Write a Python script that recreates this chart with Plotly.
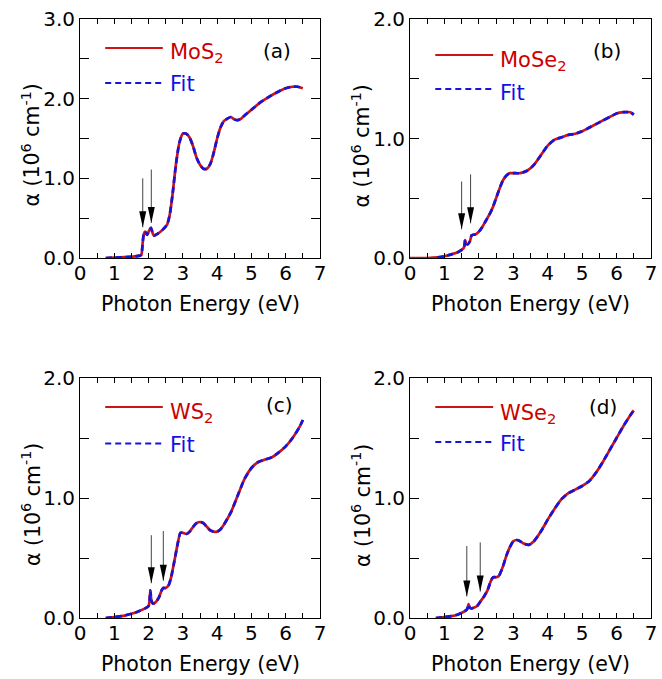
import plotly.graph_objects as go

FONT = "DejaVu Sans, Liberation Sans, Arial, sans-serif"
RED = "#cc1414"
BLUE = "#1414e0"
TXT_RED = "#cc0000"
TXT_BLUE = "#1010e6"

# ---------------- data ----------------
energy_a = [0.75, 1.0, 1.3, 1.6, 1.75, 1.79, 1.83, 1.86, 1.9, 1.96, 2.02, 2.07, 2.12, 2.16,
            2.25, 2.4, 2.54, 2.62, 2.7, 2.8, 2.9, 3.0, 3.1, 3.2, 3.3, 3.4, 3.5, 3.6, 3.7,
            3.8, 3.9, 4.0, 4.1, 4.2, 4.3, 4.4, 4.5, 4.6, 4.7, 4.8, 5.0, 5.25, 5.5, 5.75,
            6.0, 6.2, 6.35, 6.5]
alpha_a = [0.0, 0.005, 0.01, 0.02, 0.03, 0.04, 0.20, 0.30, 0.33, 0.29, 0.35, 0.38, 0.31, 0.28,
           0.30, 0.35, 0.42, 0.55, 0.80, 1.18, 1.45, 1.56, 1.56, 1.51, 1.40, 1.26, 1.17, 1.12, 1.12,
           1.18, 1.32, 1.50, 1.64, 1.72, 1.75, 1.77, 1.74, 1.73, 1.75, 1.79, 1.86, 1.95, 2.02, 2.08,
           2.13, 2.15, 2.15, 2.13]
fit_energy_a = energy_a
fit_alpha_a = alpha_a

energy_b = [0.0, 0.5, 0.8, 1.0, 1.2, 1.4, 1.55, 1.58, 1.60, 1.63, 1.68, 1.74, 1.79, 1.85, 1.92,
            2.0, 2.1, 2.2, 2.3, 2.4, 2.5, 2.6, 2.7, 2.8, 2.9, 3.0, 3.2, 3.4, 3.6, 3.8, 4.0, 4.2,
            4.4, 4.6, 4.8, 5.0, 5.2, 5.4, 5.6, 5.8, 6.0, 6.2, 6.4, 6.5]
alpha_b = [0.0, 0.0, 0.005, 0.015, 0.03, 0.05, 0.08, 0.10, 0.15, 0.12, 0.115, 0.14, 0.19, 0.195, 0.20,
           0.22, 0.26, 0.31, 0.36, 0.42, 0.50, 0.58, 0.65, 0.69, 0.71, 0.71, 0.71, 0.73, 0.78, 0.86,
           0.94, 0.99, 1.01, 1.03, 1.04, 1.06, 1.09, 1.12, 1.15, 1.18, 1.21, 1.22, 1.22, 1.20]
fit_energy_b = energy_b[2:]
fit_alpha_b = alpha_b[2:]

energy_c = [0.75, 1.0, 1.3, 1.5, 1.7, 1.9, 2.0, 2.03, 2.05, 2.08, 2.12, 2.2, 2.3, 2.38, 2.43,
            2.5, 2.58, 2.65, 2.75, 2.85, 2.93, 3.0, 3.1, 3.2, 3.3, 3.4, 3.5, 3.6, 3.7, 3.8, 3.9,
            4.0, 4.1, 4.2, 4.4, 4.6, 4.8, 5.0, 5.2, 5.4, 5.6, 5.8, 6.0, 6.2, 6.4, 6.5]
alpha_c = [0.0, 0.008, 0.02, 0.035, 0.055, 0.08, 0.10, 0.15, 0.23, 0.15, 0.12, 0.13, 0.17, 0.23, 0.25,
           0.25, 0.27, 0.33, 0.47, 0.62, 0.71, 0.71, 0.70, 0.72, 0.76, 0.79, 0.80, 0.79, 0.76, 0.73, 0.72,
           0.72, 0.74, 0.78, 0.88, 1.02, 1.16, 1.25, 1.30, 1.32, 1.34, 1.38, 1.43, 1.50, 1.59, 1.65]
fit_energy_c = energy_c
fit_alpha_c = alpha_c

energy_d = [0.75, 1.0, 1.2, 1.4, 1.55, 1.65, 1.68, 1.70, 1.73, 1.78, 1.85, 1.95, 2.05, 2.15, 2.25,
            2.35, 2.42, 2.5, 2.58, 2.7, 2.8, 2.9, 3.0, 3.1, 3.2, 3.3, 3.45, 3.6, 3.8, 4.0, 4.2,
            4.4, 4.6, 4.8, 5.0, 5.2, 5.4, 5.6, 5.8, 6.0, 6.2, 6.4, 6.5]
alpha_d = [0.0, 0.008, 0.015, 0.03, 0.05, 0.07, 0.09, 0.115, 0.09, 0.08, 0.085, 0.10, 0.14, 0.18, 0.23,
           0.31, 0.34, 0.34, 0.35, 0.43, 0.52, 0.59, 0.64, 0.65, 0.64, 0.62, 0.61, 0.64, 0.72, 0.82, 0.91,
           0.99, 1.04, 1.07, 1.10, 1.14, 1.21, 1.30, 1.40, 1.50, 1.60, 1.69, 1.73]
fit_energy_d = energy_d
fit_alpha_d = alpha_d

# arrows: (energy, top of shaft, tip)
arrows_a = [(1.83, 1.00, 0.385), (2.08, 1.11, 0.44)]
arrows_b = [(1.50, 0.64, 0.24), (1.76, 0.70, 0.29)]
arrows_c = [(2.08, 0.69, 0.29), (2.43, 0.725, 0.31)]
arrows_d = [(1.65, 0.60, 0.18), (2.04, 0.63, 0.22)]

materials = ["MoS<sub>2</sub>", "MoSe<sub>2</sub>", "WS<sub>2</sub>", "WSe<sub>2</sub>"]
labels = ["(a)", "(b)", "(c)", "(d)"]
y_max = [3.0, 2.0, 2.0, 2.0]
x_ticks = [0, 1, 2, 3, 4, 5, 6, 7]

# ---------------- layout geometry ----------------
W, H = 662, 679
col_px = [(80, 320), (410, 651)]
row_px = [(19, 258), (378, 618)]

panels = [
    dict(x=energy_a, y=alpha_a, fx=fit_energy_a, fy=fit_alpha_a, arrows=arrows_a, col=0, row=0,
         leg=(29, 64), legtxt=(30.5, 65), lab=(0.82, 31.7)),
    dict(x=energy_b, y=alpha_b, fx=fit_energy_b, fy=fit_alpha_b, arrows=arrows_b, col=1, row=0,
         leg=(36, 70), legtxt=(38.5, 73.5), lab=(0.817, 31.7)),
    dict(x=energy_c, y=alpha_c, fx=fit_energy_c, fy=fit_alpha_c, arrows=arrows_c, col=0, row=1,
         leg=(29, 65.5), legtxt=(31.5, 67.3), lab=(0.83, 27)),
    dict(x=energy_d, y=alpha_d, fx=fit_energy_d, fy=fit_alpha_d, arrows=arrows_d, col=1, row=1,
         leg=(29, 64), legtxt=(33, 66.3), lab=(0.80, 29)),
]

fig = go.Figure()
shapes = []
annotations = []

for i, p in enumerate(panels):
    n = "" if i == 0 else str(i + 1)
    xa, ya = "x" + n, "y" + n
    x0p, x1p = col_px[p["col"]]
    y0p, y1p = row_px[p["row"]]
    hpx = y1p - y0p

    fig.add_trace(go.Scatter(x=p["x"], y=p["y"], mode="lines", xaxis=xa, yaxis=ya,
                             line=dict(color=RED, width=2.7, shape="spline", smoothing=0.6),
                             showlegend=False))
    fig.add_trace(go.Scatter(x=p["fx"], y=p["fy"], mode="lines", xaxis=xa, yaxis=ya,
                             line=dict(color=BLUE, width=2.7, dash="6px,4px", shape="spline",
                                       smoothing=0.6),
                             showlegend=False))

    xaxis = dict(domain=[x0p / W, x1p / W], range=[0, 7], anchor=ya, automargin=False,
                 tickmode="array", tickvals=x_ticks, ticktext=[str(v) for v in x_ticks],
                 ticks="inside", ticklen=5, tickwidth=1, tickcolor="black",
                 minor=dict(dtick=0.5, tick0=0, ticks="inside", ticklen=5, tickwidth=1,
                            tickcolor="black"),
                 showline=True, linecolor="black", linewidth=1, mirror="allticks",
                 showgrid=False, zeroline=False, ticklabelstandoff=-3,
                 tickfont=dict(family=FONT, size=20, color="black"))
    yaxis = dict(domain=[1 - y1p / H, 1 - y0p / H], range=[0, y_max[i]], anchor=xa,
                 automargin=False, dtick=1, tick0=0, tickformat=".1f",
                 ticks="inside", ticklen=9, tickwidth=1, tickcolor="black",
                 minor=dict(dtick=0.5, tick0=0, ticks="inside", ticklen=9, tickwidth=1,
                            tickcolor="black"),
                 showline=True, linecolor="black", linewidth=1, mirror="allticks",
                 showgrid=False, zeroline=False,
                 tickfont=dict(family=FONT, size=20, color="black"))
    fig.update_layout(**{"xaxis" + n: xaxis, "yaxis" + n: yaxis})

    xd, yd = xa + " domain", ya + " domain"
    # legend lines
    shapes.append(dict(type="line", xref=xd, yref=yd, x0=0.105, x1=0.345,
                       y0=1 - p["leg"][0] / hpx, y1=1 - p["leg"][0] / hpx,
                       line=dict(color=RED, width=2.2)))
    shapes.append(dict(type="line", xref=xd, yref=yd, x0=0.105, x1=0.345,
                       y0=1 - p["leg"][1] / hpx, y1=1 - p["leg"][1] / hpx,
                       line=dict(color=BLUE, width=2.2, dash="6px,4px")))
    annotations.append(dict(xref=xd, yref=yd, x=0.37, y=1 - p["legtxt"][0] / hpx,
                            xanchor="left", yanchor="middle", xshift=-1, yshift=-3,
                            showarrow=False, text=materials[i],
                            font=dict(family=FONT, size=21, color=TXT_RED)))
    annotations.append(dict(xref=xd, yref=yd, x=0.37, y=1 - p["legtxt"][1] / hpx,
                            xanchor="left", yanchor="middle", xshift=-1, showarrow=False,
                            text="Fit", font=dict(family=FONT, size=21, color=TXT_BLUE)))
    # panel label
    annotations.append(dict(xref=xd, yref=yd, x=p["lab"][0], y=1 - p["lab"][1] / hpx,
                            xanchor="center", yanchor="middle", showarrow=False,
                            text=labels[i], font=dict(family=FONT, size=20, color="black")))
    # axis titles
    annotations.append(dict(xref=xd, yref=yd, x=0.5, y=0, yshift=-46,
                            xanchor="center", yanchor="middle", showarrow=False,
                            text="Photon Energy (eV)",
                            font=dict(family=FONT, size=20.5, color="black")))
    annotations.append(dict(xref=xd, yref=yd, x=0, y=0.5, xshift=-49, yshift=-7,
                            xanchor="center", yanchor="middle", showarrow=False, textangle=-90,
                            text="\u03b1 (10<sup>6</sup> cm<sup>-1</sup>)",
                            font=dict(family=FONT, size=20.5, color="black")))
    # arrows
    for (ex, top, tip) in p["arrows"]:
        shapes.append(dict(type="line", xref=xa, yref=ya, x0=ex, x1=ex, y0=top, y1=tip,
                           line=dict(color="#444444", width=1)))
        shapes.append(dict(type="path", xref=xa, yref=ya, xsizemode="pixel", ysizemode="pixel",
                           xanchor=ex, yanchor=tip, path="M-3.5,16 L3.5,16 L0,0 Z",
                           fillcolor="black", line=dict(width=0)))

fig.update_layout(width=W, height=H, margin=dict(l=0, r=0, t=0, b=0, autoexpand=False),
                  paper_bgcolor="white", plot_bgcolor="white",
                  shapes=shapes, annotations=annotations, showlegend=False,
                  font=dict(family=FONT))

fig.write_html("out.html")
